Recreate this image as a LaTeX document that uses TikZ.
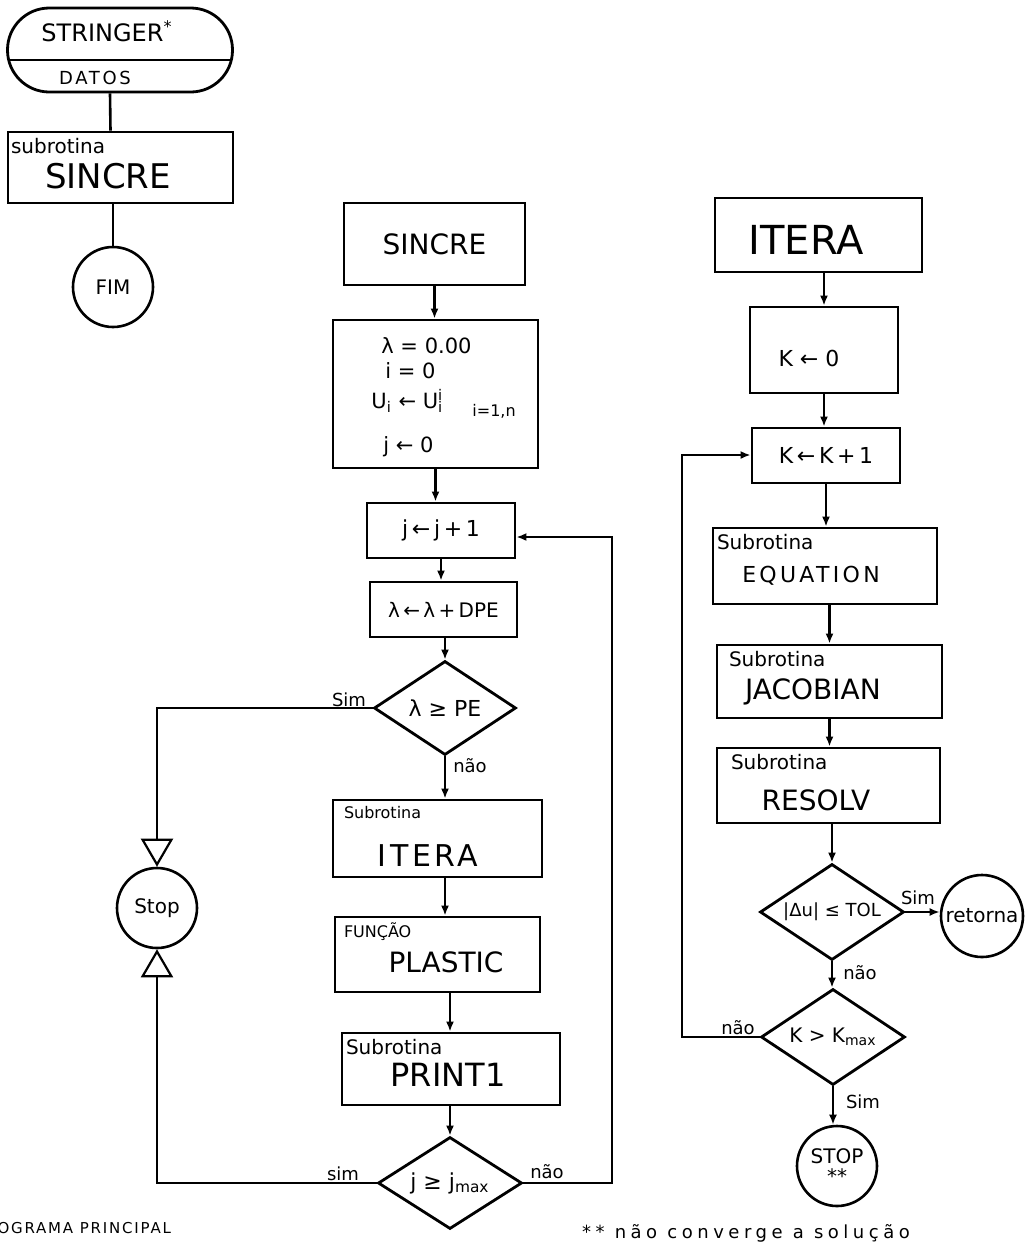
\documentclass[tikz,border=0pt]{standalone}
\usepackage{fontspec}
\setmainfont{DejaVu Sans}
\usetikzlibrary{calc,shapes.geometric,arrows.meta}
\def\FSize#1{\fontsize{#1pt}{#1pt}\selectfont}
\def\Wide#1{\addfontfeature{LetterSpace=#1}}
\def\SubLabel#1#2#3#4{%
 \node[sub label, font=\FSize{#4}] (#1-lbl) at ($(#1.north west)+(#3,7)$) {#2};
}

\begin{document}
\begin{tikzpicture}[x=0.5pt, y=-0.5pt,
  flow box/.style={draw, line width=1.4pt, inner sep=0pt},
  decision/.style={draw, diamond, aspect=1.5, line width=1.4pt, inner sep=0pt},
  term circle/.style={draw, circle, line width=1.3pt, inner sep=0pt},
  flow line/.style={line width=1.3pt},
  flow arrow/.style={flow line, -{Latex[length=5pt,width=4pt]}},
  stop arrow/.style={line width=1.1pt, -{Triangle[open,length=14pt,width=16pt,line width=1.1pt]}},
  sub label/.style={anchor=north west, inner sep=0pt},
  init line/.style={anchor=west, inner sep=0pt, font=\FSize{10.5}},
  branch/.style={inner sep=1pt, font=\FSize{9}},
  ]
\path[use as bounding box, fill=white] (0,0) rectangle (1028,1249);

% programa principal
\node[draw, rectangle, rounded corners=20.9pt, line width=1.4pt, minimum width=112.5pt, minimum height=42pt] (term) at (120,50) {};
\draw[flow line] ($(term.center)+(-111.2,10)$) -- ($(term.center)+(111.2,10)$);
\node[font=\FSize{12}] (term-top) at (107,31) {STRINGER\textsuperscript{*}};
\node[font=\FSize{9}\Wide{15}] (term-bot) at (95,78) {DATOS};
\node[flow box, minimum width=112.5pt, minimum height=35.5pt] (sub1) at (120.5,167.5) {};
\SubLabel{sub1}{subrotina}{4}{10}
\node[font=\FSize{17}] (sub1-txt) at (108,176) {SINCRE};
\node[term circle, minimum size=40pt, font=\FSize{10}] (fim) at (113,287) {FIM};
\draw[flow line] ($(term.south)+(-10,0)$) -- ($(sub1.north)+(-10,0)$);
\draw[flow line] (fim |- sub1.south) -- (fim);

% SINCRE
\node[flow box, minimum width=90.5pt, minimum height=41pt, font=\FSize{14}] (sinc) at (434.5,244) {SINCRE};
\node[flow box, minimum width=102.5pt, minimum height=74pt] (init) at (435.5,394) {};
\node[init line] (init-a) at (381,346) {λ = 0.00};
\node[init line] (init-b) at (385,371) {i = 0};
\node[init line] (init-c) at (371,401) {U\textsubscript{i} ← U\rlap{\textsubscript{i}}\textsuperscript{i}};
\node[init line, font=\FSize{8}] (init-d) at (472,411) {i=1,n};
\node[init line] (init-e) at (383,447) {j ← 0};
\node[flow box, minimum width=74pt, minimum height=27.5pt, font=\FSize{11}] (jinc) at (441,530.5) {j\,←\,j\,+\,1};
\node[flow box, minimum width=73.5pt, minimum height=27.5pt, font=\FSize{10}] (lam) at (443.5,609.5) {λ\,←\,λ\,+\,DPE};
\node[decision, minimum width=71pt, minimum height=47pt, font=\FSize{11}] (dec1) at (445,708) {λ ≥ PE};
\node[flow box, minimum width=104.5pt, minimum height=38.5pt] (itera) at (437.5,838.5) {};
\SubLabel{itera}{Subrotina}{12}{8}
\node[font=\FSize{15}\Wide{12}] (itera-txt) at (428,856) {ITERA};
\node[flow box, minimum width=102.5pt, minimum height=37.5pt] (plastic) at (437.5,954.5) {};
\SubLabel{plastic}{FUNÇÃO}{10}{8}
\node[font=\FSize{14}] (plastic-txt) at (446,962) {PLASTIC};
\node[flow box, minimum width=109pt, minimum height=36pt] (print) at (451,1069) {};
\SubLabel{print}{Subrotina}{5}{10}
\node[font=\FSize{16}] (print-txt) at (448,1075) {PRINT1};
\node[decision, minimum width=72pt, minimum height=46pt, font=\FSize{11}] (dec2) at (450,1183) {j ≥ j\textsubscript{max}};
\node[term circle, minimum size=40pt, font=\FSize{10}] (stop) at (157,908) {Stop};
\coordinate (loopR) at (612,537);

\draw[flow arrow] (sinc) -- (sinc |- init.north);
\draw[flow arrow] (init) -- (init |- jinc.north);
\draw[flow arrow] (jinc) -- (jinc |- lam.north);
\draw[flow arrow] (lam.south -| dec1) -- (dec1.north);
\draw[flow arrow] (dec1) -- (dec1 |- itera.north);
\draw[flow arrow] (dec1 |- itera.south) -- (dec1 |- plastic.north);
\draw[flow arrow] (dec2 |- plastic.south) -- (dec2 |- print.north);
\draw[flow arrow] (dec2 |- print.south) -- (dec2.north);
\draw[flow arrow] (dec2.east) -| (loopR) -- (loopR -| jinc.east);
\draw[stop arrow] (dec1.west) -| (stop.north);
\draw[stop arrow] (dec2.west) -| (stop.south);
\node[branch] (dec1-yes) at (349,700) {Sim};
\node[branch] (dec1-no) at (470,766) {não};
\node[branch] (dec2-yes) at (343,1174) {sim};
\node[branch] (dec2-no) at (547,1172) {não};

% ITERA
\node[flow box, minimum width=103.5pt, minimum height=37pt] (itera2) at (818.5,235) {};
\node[font=\FSize{20}] (itera2-txt) at (806,240) {ITERA};
\node[flow box, minimum width=74pt, minimum height=43pt] (k0) at (824,350) {};
\node[font=\FSize{11}] (k0-txt) at (809,358) {K ← 0};
\node[flow box, minimum width=74pt, minimum height=27.5pt, font=\FSize{11}] (kinc) at (826,455.5) {K\,←\,K\,+\,1};
\node[flow box, minimum width=112pt, minimum height=38pt] (eq) at (825,566) {};
\SubLabel{eq}{Subrotina}{5}{10}
\node[font=\FSize{11}\Wide{15}] (eq-txt) at (811,576) {EQUATION};
\node[flow box, minimum width=112.5pt, minimum height=36.5pt] (jac) at (829.5,681.5) {};
\SubLabel{jac}{Subrotina}{13}{10}
\node[font=\FSize{14}] (jac-txt) at (813,692) {JACOBIAN};
\node[flow box, minimum width=111.5pt, minimum height=37.5pt] (res) at (828.5,785.5) {};
\SubLabel{res}{Subrotina}{15}{10}
\node[font=\FSize{14}] (res-txt) at (816,800) {RESOLV};
\node[decision, minimum width=72pt, minimum height=48pt, font=\FSize{9}] (dec3) at (832,912) {|Δu| ≤ TOL};
\node[term circle, minimum size=41pt, font=\FSize{10}] (ret) at (982,916) {retorna};
\node[decision, minimum width=72pt, minimum height=48pt, font=\FSize{10}] (dec4) at (833,1037) {K > K\textsubscript{max}};
\node[term circle, minimum size=40pt, font=\FSize{10}, align=center] (stop2) at (837,1166) {STOP\\**};
\coordinate (loopL) at (682,455);

\draw[flow arrow] (k0 |- itera2.south) -- (k0.north);
\draw[flow arrow] (k0) -- (k0 |- kinc.north);
\draw[flow arrow] (kinc) -- (kinc |- eq.north);
\draw[flow arrow] (eq.south -| jac) -- (jac.north);
\draw[flow arrow] (jac) -- (jac |- res.north);
\draw[flow arrow] (res.south -| dec3) -- (dec3.north);
\draw[flow arrow] (dec3.east) -- (dec3.east -| ret.west);
\draw[flow arrow] (dec3) -- (dec3 |- dec4.north);
\draw[flow arrow] (dec4) -- (dec4 |- stop2.north);
\draw[flow arrow] (dec4.west) -| (loopL) -- (loopL -| kinc.west);
\node[branch] (dec3-yes) at (918,898) {Sim};
\node[branch] (dec3-no) at (860,973) {não};
\node[branch] (dec4-no) at (738,1028) {não};
\node[branch] (dec4-yes) at (863,1102) {Sim};

% notas
\node[anchor=east, font=\FSize{7.5}\Wide{12}] (prog) at (178,1228) {PROGRAMA PRINCIPAL};
\node[anchor=west, font=\FSize{9}\Wide{25}] (note) at (575,1233) {** não converge a solução};
\end{tikzpicture}
\end{document}
